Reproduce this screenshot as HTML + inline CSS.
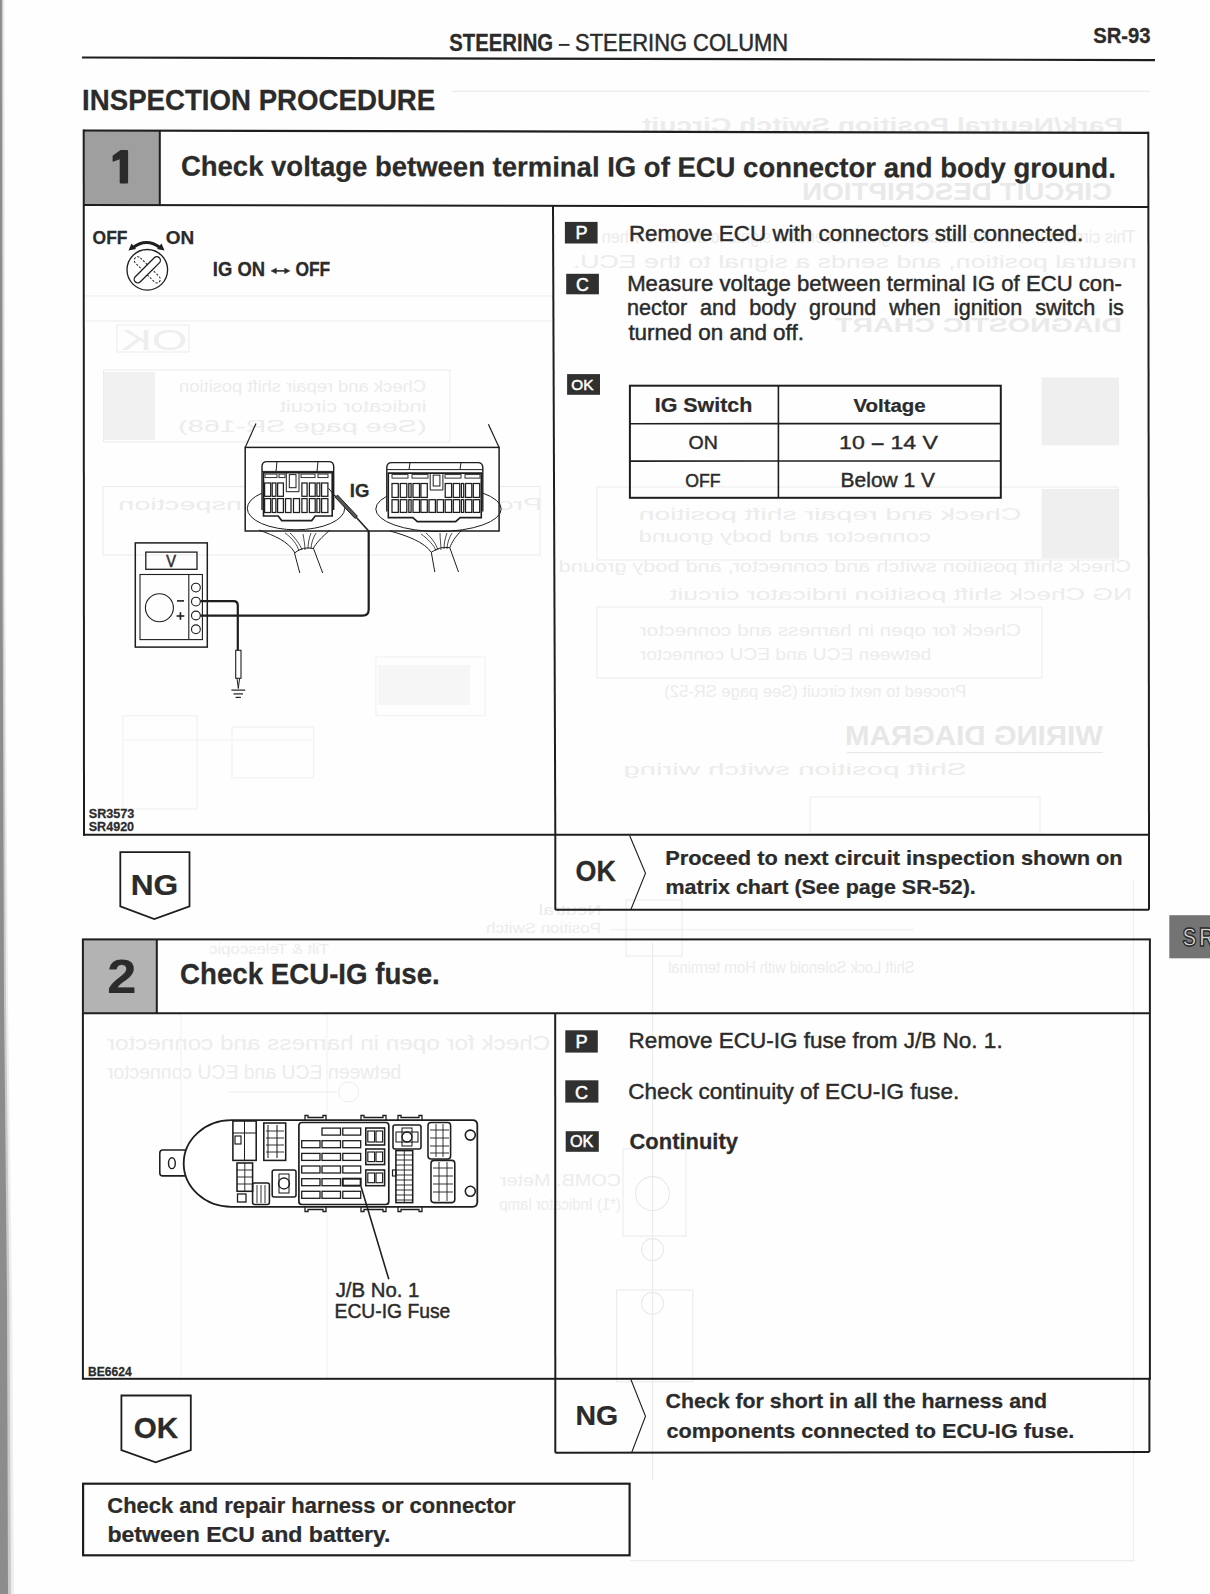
<!DOCTYPE html>
<html><head><meta charset="utf-8"><title>SR-93</title>
<style>html,body{margin:0;padding:0;background:#fefefe;}body{width:1210px;height:1594px;overflow:hidden;font-family:"Liberation Sans",sans-serif;}svg{display:block}</style>
</head><body>
<svg width="1210" height="1594" viewBox="0 0 1210 1594" font-family="Liberation Sans, sans-serif">
<rect width="1210" height="1594" fill="#fefefe"/>
<text transform="translate(1122.97,131.50) scale(-1,1) scale(1.3433,1)" font-size="21.00" font-weight="bold" fill="#ececec">Park/Neutral Position Switch Circuit</text>
<text transform="translate(1112.11,200.00) scale(-1,1) scale(1.2069,1)" font-size="23.00" font-weight="bold" fill="#e9e9e9">CIRCUIT DESCRIPTION</text>
<text transform="translate(1135.32,243.00) scale(-1,1) scale(0.8528,1)" font-size="19.00" fill="#ececec">This circuit turns on the indicator light and sends a signal to the ECU when the</text>
<text transform="translate(1136.87,268.00) scale(-1,1) scale(1.4062,1)" font-size="19.00" fill="#ececec">neutral position, and sends a signal to the ECU.</text>
<text transform="translate(1122.00,332.00) scale(-1,1) scale(1.3599,1)" font-size="21.00" font-weight="bold" fill="#eaeaea">DIAGNOSTIC CHART</text>
<text transform="translate(1021.42,520.00) scale(-1,1) scale(1.6756,1)" font-size="17.00" fill="#ececec">Check and repair shift position</text>
<text transform="translate(930.96,542.00) scale(-1,1) scale(1.4133,1)" font-size="17.00" fill="#ececec">connector and body ground</text>
<text transform="translate(1021.04,636.00) scale(-1,1) scale(1.2268,1)" font-size="17.00" fill="#ececec">Check for open in harness and connector</text>
<text transform="translate(931.15,660.00) scale(-1,1) scale(1.1297,1)" font-size="17.00" fill="#ececec">between ECU and ECU connector</text>
<text transform="translate(1103.00,744.60) scale(-1,1) scale(1.0886,1)" font-size="27.00" font-weight="bold" fill="#e7e7e7">WIRING DIAGRAM</text>
<text transform="translate(425.92,392.00) scale(-1,1) scale(1.0803,1)" font-size="17.00" fill="#ececec">Check and repair shift position</text>
<text transform="translate(426.54,412.00) scale(-1,1) scale(1.2943,1)" font-size="17.00" fill="#ececec">indicator circuit</text>
<text transform="translate(426.73,432.00) scale(-1,1) scale(1.6975,1)" font-size="17.00" fill="#ececec">(See page SR-168)</text>
<text transform="translate(542.31,510.00) scale(-1,1) scale(1.7003,1)" font-size="17.00" fill="#ececec">Proceed to next circuit inspection</text>
<text transform="translate(187.28,350.00) scale(-1,1) scale(1.5217,1)" font-size="30.00" fill="#eeeeee">OK</text>
<text transform="translate(550.21,1050.00) scale(-1,1) scale(1.1552,1)" font-size="21.00" fill="#ececec">Check for open in harness and connector</text>
<text transform="translate(401.16,1079.00) scale(-1,1) scale(0.9240,1)" font-size="21.00" fill="#ececec">between ECU and ECU connector</text>
<text transform="translate(601.06,933.00) scale(-1,1) scale(1.2123,1)" font-size="14.00" fill="#ececec">Position Switch</text>
<text transform="translate(601.56,915.00) scale(-1,1) scale(1.3915,1)" font-size="14.00" fill="#ececec">Neutral</text>
<text transform="translate(328.93,954.00) scale(-1,1) scale(1.1938,1)" font-size="14.00" fill="#ececec">Tilt & Telescopic</text>
<text transform="translate(914.43,972.70) scale(-1,1) scale(0.9114,1)" font-size="16.00" fill="#ececec">Shift Lock Solenoid with Horn terminal</text>
<text transform="translate(620.99,1186.00) scale(-1,1) scale(1.1667,1)" font-size="17.00" fill="#ececec">COMB. Meter</text>
<text transform="translate(620.89,1210.00) scale(-1,1) scale(0.8747,1)" font-size="17.00" fill="#ececec">(*1) Indicator lamp</text>
<text transform="translate(1131.09,572.00) scale(-1,1) scale(1.2783,1)" font-size="17.00" fill="#ececec">Check shift position switch and connector, and body ground</text>
<text transform="translate(1132.13,600.00) scale(-1,1) scale(1.5632,1)" font-size="17.00" fill="#ececec">NG   Check shift position indicator circuit</text>
<text transform="translate(966.33,697.00) scale(-1,1) scale(0.9755,1)" font-size="17.00" fill="#ececec">Proceed to next circuit (See page SR-52)</text>
<text transform="translate(966.47,775.00) scale(-1,1) scale(1.7301,1)" font-size="17.00" fill="#ececec">Shift position switch   wiring</text>
<path d="M0,0 L4.5,0 L5.5,600 L8,1000 L12,1300 L14,1594 L0,1594 Z" fill="#ededed" stroke="#1e1e1e" stroke-width="0"/><path d="M0,0 L3,0 L4,600 L6,1000 L9.5,1300 L11,1594 L0,1594 Z" fill="#c9c9c9" stroke="#1e1e1e" stroke-width="0"/><path d="M0,0 L1.8,0 L2.6,600 L4,1000 L7,1300 L8,1594 L0,1594 Z" fill="#8c8c8c" stroke="#1e1e1e" stroke-width="0"/><line x1="558.80" y1="44.90" x2="569.50" y2="44.90" stroke="#2b2b2b" stroke-width="1.9"/><path d="M82,56.4 L1155,59.0 L1155,61.2 L82,58.6 Z" fill="#1e1e1e" stroke="#1e1e1e" stroke-width="0"/><rect x="1041.60" y="377.50" width="77.40" height="67.70" fill="#efefef"/><rect x="1041.60" y="489.00" width="77.40" height="69.60" fill="#efefef"/><rect x="597.00" y="487.00" width="521.00" height="73.00" fill="none" stroke="#ebebeb" stroke-width="1.0"/><rect x="597.00" y="607.00" width="445.00" height="71.00" fill="none" stroke="#ebebeb" stroke-width="1.0"/><line x1="847.00" y1="752.60" x2="1103.00" y2="752.60" stroke="#e6e6e6" stroke-width="1.0"/><rect x="810.00" y="797.00" width="230.00" height="37.00" fill="none" stroke="#ececec" stroke-width="1.0"/><rect x="103.50" y="370.00" width="346.50" height="72.00" fill="none" stroke="#ebebeb" stroke-width="1.0"/><rect x="104.00" y="372.00" width="51.00" height="68.00" fill="#f1f1f1"/><rect x="103.00" y="486.60" width="437.00" height="68.40" fill="none" stroke="#ebebeb" stroke-width="1.0"/><rect x="117.00" y="325.00" width="72.00" height="27.00" fill="none" stroke="#ececec" stroke-width="1.0"/><line x1="84.00" y1="321.00" x2="553.00" y2="321.00" stroke="#ececec" stroke-width="1.0"/><line x1="84.00" y1="296.00" x2="553.00" y2="296.00" stroke="#ededed" stroke-width="1.0"/><line x1="652.50" y1="943.00" x2="652.50" y2="1480.00" stroke="#ebebeb" stroke-width="1.2"/><rect x="623.00" y="1149.00" width="63.00" height="87.00" fill="none" stroke="#ebebeb" stroke-width="1.1"/><circle cx="652.50" cy="1193.60" r="17.00" fill="none" stroke="#e9e9e9" stroke-width="1.1"/><circle cx="652.50" cy="1249.60" r="11.00" fill="none" stroke="#e9e9e9" stroke-width="1.1"/><rect x="616.60" y="1290.00" width="76.20" height="91.80" fill="none" stroke="#ebebeb" stroke-width="1.1"/><circle cx="652.50" cy="1303.40" r="11.00" fill="none" stroke="#e9e9e9" stroke-width="1.1"/><rect x="626.00" y="900.00" width="56.00" height="56.00" fill="none" stroke="#ececec" stroke-width="1.1"/><line x1="610.00" y1="929.70" x2="914.00" y2="929.70" stroke="#eeeeee" stroke-width="1.0"/><line x1="181.00" y1="1013.00" x2="181.00" y2="1378.00" stroke="#f1f1f1" stroke-width="1.0"/><line x1="327.00" y1="1013.00" x2="327.00" y2="1378.00" stroke="#f1f1f1" stroke-width="1.0"/><line x1="228.00" y1="1092.00" x2="337.00" y2="1092.00" stroke="#ececec" stroke-width="1.0"/><circle cx="348.70" cy="1092.00" r="10.00" fill="none" stroke="#ececec" stroke-width="1.0"/><line x1="452.00" y1="91.40" x2="1150.00" y2="91.40" stroke="#ececec" stroke-width="1.2"/><line x1="630.00" y1="1560.60" x2="1135.00" y2="1560.60" stroke="#ececec" stroke-width="1.2"/><line x1="1133.50" y1="880.00" x2="1133.50" y2="1560.00" stroke="#efefef" stroke-width="1.2"/><rect x="123.00" y="715.70" width="74.00" height="93.30" fill="none" stroke="#efefef" stroke-width="1.0"/><rect x="232.00" y="727.00" width="81.70" height="51.00" fill="none" stroke="#efefef" stroke-width="1.0"/><rect x="376.00" y="657.00" width="109.00" height="58.70" fill="none" stroke="#efefef" stroke-width="1.0"/><rect x="378.00" y="665.00" width="92.00" height="40.00" fill="#f6f6f6"/><line x1="123.00" y1="740.00" x2="313.00" y2="740.00" stroke="#f0f0f0" stroke-width="1.0"/><path d="M83.5,130.5 L159.8,130.7 L159.8,205.0 L83.5,204.9 Z" fill="#9f9f9f" stroke="#1e1e1e" stroke-width="0"/><path d="M120.6,150.0 L126.9,150.0 Q128.1,150 128.1,151.2 L128.1,182.5 Q128.1,183.6 126.9,183.6 L120.9,183.6 Q119.7,183.6 119.7,182.5 L119.7,159.2 L113.6,161.6 Q112.6,162 112.6,161 L112.6,156.3 Q112.6,155.3 113.6,154.9 Z" fill="#2b2b2b" stroke="#1e1e1e" stroke-width="0"/><path d="M83.5,130.5 L1148.3,132.9" fill="none" stroke="#1e1e1e" stroke-width="2.2"/><path d="M83.5,204.9 L1148.3,206.9" fill="none" stroke="#1e1e1e" stroke-width="2.0"/><line x1="159.80" y1="130.60" x2="159.80" y2="205.00" stroke="#1e1e1e" stroke-width="2.0"/><line x1="83.70" y1="129.50" x2="84.00" y2="835.80" stroke="#1e1e1e" stroke-width="2.0"/><line x1="1148.30" y1="131.80" x2="1149.00" y2="835.80" stroke="#1e1e1e" stroke-width="2.0"/><line x1="83.00" y1="834.80" x2="1150.00" y2="834.80" stroke="#1e1e1e" stroke-width="2.0"/><line x1="553.00" y1="206.00" x2="555.30" y2="835.00" stroke="#1e1e1e" stroke-width="2.0"/><rect x="564.90" y="221.90" width="32.70" height="21.60" fill="#303030"/><rect x="566.20" y="273.80" width="32.70" height="20.50" fill="#303030"/><rect x="567.10" y="374.10" width="32.90" height="20.70" fill="#303030"/><rect x="629.90" y="385.70" width="370.90" height="112.10" fill="none" stroke="#1e1e1e" stroke-width="2.0"/><line x1="629.90" y1="423.70" x2="1000.80" y2="423.60" stroke="#1e1e1e" stroke-width="1.6"/><line x1="629.90" y1="461.10" x2="1000.80" y2="461.00" stroke="#1e1e1e" stroke-width="1.6"/><line x1="778.40" y1="385.70" x2="778.40" y2="497.80" stroke="#1e1e1e" stroke-width="1.6"/><line x1="555.30" y1="834.80" x2="555.30" y2="909.70" stroke="#1e1e1e" stroke-width="2.0"/><line x1="555.30" y1="909.70" x2="1149.00" y2="909.70" stroke="#1e1e1e" stroke-width="2.0"/><line x1="1149.00" y1="834.80" x2="1149.00" y2="909.70" stroke="#1e1e1e" stroke-width="2.0"/><path d="M629.6,835.5 L645.5,873.3 L631,909.2" fill="none" stroke="#1e1e1e" stroke-width="1.1"/><path d="M120.3,852.1 L189.5,852.1 L189.5,906.3 L154.3,919.1 L120.3,906.3 Z" fill="none" stroke="#1e1e1e" stroke-width="1.8"/><rect x="82.90" y="939.40" width="73.90" height="73.90" fill="#b3b3b3"/><rect x="82.90" y="939.40" width="1067.00" height="439.40" fill="none" stroke="#1e1e1e" stroke-width="2.0"/><line x1="82.90" y1="1013.30" x2="1149.90" y2="1013.30" stroke="#1e1e1e" stroke-width="2.0"/><line x1="156.80" y1="939.40" x2="156.80" y2="1013.30" stroke="#1e1e1e" stroke-width="2.0"/><line x1="555.20" y1="1013.30" x2="555.30" y2="1378.80" stroke="#1e1e1e" stroke-width="2.0"/><rect x="565.30" y="1030.30" width="32.50" height="22.30" fill="#303030"/><rect x="565.30" y="1080.30" width="33.10" height="22.30" fill="#303030"/><rect x="565.70" y="1131.20" width="33.10" height="20.60" fill="#303030"/><line x1="555.30" y1="1378.80" x2="555.30" y2="1452.80" stroke="#1e1e1e" stroke-width="2.0"/><line x1="555.30" y1="1452.80" x2="1149.40" y2="1452.00" stroke="#1e1e1e" stroke-width="2.0"/><line x1="1149.40" y1="1378.80" x2="1149.40" y2="1452.00" stroke="#1e1e1e" stroke-width="2.0"/><path d="M630.7,1379 L645.5,1416.3 L631.6,1452.8" fill="none" stroke="#1e1e1e" stroke-width="1.1"/><path d="M121.4,1395.5 L190.8,1395.5 L190.8,1450.1 L155.6,1462.3 L121.4,1450.1 Z" fill="none" stroke="#1e1e1e" stroke-width="1.8"/><rect x="83.10" y="1483.70" width="546.50" height="71.60" fill="none" stroke="#1e1e1e" stroke-width="2.2"/><rect x="1169.30" y="915.20" width="40.70" height="43.10" fill="#747474"/>
<circle cx="147.30" cy="269.80" r="20.30" fill="none" stroke="#1e1e1e" stroke-width="1.3"/><rect x="130.3" y="266.2" width="34" height="7.2" rx="3.6" fill="none" stroke="#1e1e1e" stroke-width="1" stroke-dasharray="2.2,1.6" transform="rotate(45 147.3 269.8)"/><rect x="130.3" y="266.2" width="34" height="7.2" rx="3.6" fill="#fff" stroke="#1e1e1e" stroke-width="1.3" transform="rotate(-45 147.3 269.8)"/><line x1="274.00" y1="270.90" x2="287.00" y2="270.90" stroke="#2b2b2b" stroke-width="1.6"/><path d="M271.1,270.9 L276.3,268.2 L276.3,273.6 Z" fill="#2b2b2b" stroke="#2b2b2b" stroke-width="0.6"/><path d="M289.9,270.9 L284.7,268.2 L284.7,273.6 Z" fill="#2b2b2b" stroke="#2b2b2b" stroke-width="0.6"/><path d="M133,247.5 Q146.5,237.5 160,247.5" fill="none" stroke="#1e1e1e" stroke-width="3.0"/><path d="M128.5,250.5 L131.5,243.5 L136,249 Z" fill="#1e1e1e" stroke="#1e1e1e" stroke-width="0"/><path d="M164.5,250.5 L161.5,243.5 L157,249 Z" fill="#1e1e1e" stroke="#1e1e1e" stroke-width="0"/>
<rect x="245.20" y="447.40" width="253.90" height="83.60" fill="#fff" stroke="#1e1e1e" stroke-width="1.5"/><line x1="245.20" y1="447.40" x2="256.00" y2="423.40" stroke="#1e1e1e" stroke-width="1.2"/><line x1="499.10" y1="447.60" x2="488.40" y2="424.20" stroke="#1e1e1e" stroke-width="1.2"/><ellipse cx="296.00" cy="508.40" rx="48.70" ry="21.40" fill="none" stroke="#1e1e1e" stroke-width="1.0"/><ellipse cx="438.50" cy="509.00" rx="62.70" ry="22.50" fill="none" stroke="#1e1e1e" stroke-width="1.0"/><path d="M259,530 C275,536 288,541 295,553" fill="none" stroke="#1e1e1e" stroke-width="1.0"/><path d="M330,530 C322,537 316,543 313,549" fill="none" stroke="#1e1e1e" stroke-width="1.0"/><path d="M285,533 C292,538 297,544 299,551 M290,533 C295,538 300,544 302,550 M303,534 C304,540 305,545 305,550 M311,533 C309,538 308,544 308,549 M316,533 C313,538 311,544 311,549" fill="none" stroke="#1e1e1e" stroke-width="0.8"/><path d="M294.5,553 Q303,546 313.5,548.5" fill="none" stroke="#1e1e1e" stroke-width="1.0"/><path d="M294.5,553 L299.8,573 M313.5,548.5 L322.7,573" fill="none" stroke="#1e1e1e" stroke-width="1.0"/><path d="M390,531 C408,536 424,542 431.3,552.3" fill="none" stroke="#1e1e1e" stroke-width="1.0"/><path d="M462,530 C455,537 452,542 449.8,547.7" fill="none" stroke="#1e1e1e" stroke-width="1.0"/><path d="M421,534 C428,539 434,545 436,551 M426,533 C432,538 436,544 438,550 M440,533 C440,539 441,545 441,550 M447,533 C445,538 444,544 444,549 M452,533 C449,538 447,544 447,549" fill="none" stroke="#1e1e1e" stroke-width="0.8"/><path d="M431.3,552.3 Q440,546 449.8,547.7" fill="none" stroke="#1e1e1e" stroke-width="1.0"/><path d="M431.3,552.3 L434.8,572 M449.8,547.7 L458.5,572" fill="none" stroke="#1e1e1e" stroke-width="1.0"/><path d="M262.0,510.0 L262.0,466.6 Q262.0,461.6 267.0,461.6 L328.7,461.6 Q333.7,461.6 333.7,466.6 L333.7,510.0" fill="#fff" stroke="#1e1e1e" stroke-width="1.4"/><line x1="262.00" y1="471.40" x2="333.70" y2="471.40" stroke="#1e1e1e" stroke-width="1.0"/><line x1="277.00" y1="461.60" x2="276.00" y2="471.40" stroke="#1e1e1e" stroke-width="1.0"/><line x1="318.00" y1="461.60" x2="317.00" y2="471.40" stroke="#1e1e1e" stroke-width="1.0"/><path d="M263.5,472.6 L332.2,472.6 L332.2,516.0 L315.2,516.0 L311.7,520.6 L281.7,520.6 L278.2,516.0 L263.5,516.0 Z" fill="#fff" stroke="#1e1e1e" stroke-width="1.6"/><rect x="265.00" y="474.10" width="12.00" height="3.50" fill="none" stroke="#1e1e1e" stroke-width="0.9"/><rect x="279.00" y="474.10" width="6.00" height="3.50" fill="none" stroke="#1e1e1e" stroke-width="0.9"/><rect x="301.00" y="474.10" width="14.00" height="3.50" fill="none" stroke="#1e1e1e" stroke-width="0.9"/><rect x="318.00" y="474.10" width="10.00" height="3.50" fill="none" stroke="#1e1e1e" stroke-width="0.9"/><rect x="264.60" y="483.00" width="6.10" height="13.30" fill="none" stroke="#1e1e1e" stroke-width="1.25"/><rect x="272.20" y="483.00" width="3.70" height="13.30" fill="none" stroke="#1e1e1e" stroke-width="1.25"/><rect x="277.60" y="483.00" width="5.80" height="13.30" fill="none" stroke="#1e1e1e" stroke-width="1.25"/><rect x="301.90" y="483.00" width="5.20" height="13.30" fill="none" stroke="#1e1e1e" stroke-width="1.25"/><rect x="309.40" y="483.00" width="5.80" height="13.30" fill="none" stroke="#1e1e1e" stroke-width="1.25"/><rect x="316.90" y="483.00" width="2.90" height="13.30" fill="none" stroke="#1e1e1e" stroke-width="1.25"/><rect x="321.60" y="483.00" width="6.30" height="13.30" fill="none" stroke="#1e1e1e" stroke-width="1.25"/><rect x="264.60" y="498.60" width="6.10" height="13.90" fill="none" stroke="#1e1e1e" stroke-width="1.25"/><rect x="272.20" y="498.60" width="3.70" height="13.90" fill="none" stroke="#1e1e1e" stroke-width="1.25"/><rect x="277.60" y="498.60" width="5.80" height="13.90" fill="none" stroke="#1e1e1e" stroke-width="1.25"/><rect x="285.50" y="498.60" width="5.50" height="13.90" fill="none" stroke="#1e1e1e" stroke-width="1.25"/><rect x="293.50" y="498.60" width="6.00" height="13.90" fill="none" stroke="#1e1e1e" stroke-width="1.25"/><rect x="301.90" y="498.60" width="5.20" height="13.90" fill="none" stroke="#1e1e1e" stroke-width="1.25"/><rect x="309.40" y="498.60" width="5.80" height="13.90" fill="none" stroke="#1e1e1e" stroke-width="1.25"/><rect x="316.90" y="498.60" width="2.90" height="13.90" fill="none" stroke="#1e1e1e" stroke-width="1.25"/><rect x="321.60" y="498.60" width="6.30" height="13.90" fill="none" stroke="#1e1e1e" stroke-width="1.25"/><path d="M286.3,472.6 L286.3,491.7 L299.0,491.7 L299.0,472.6" fill="none" stroke="#1e1e1e" stroke-width="1.0"/><rect x="289.30" y="474.60" width="6.70" height="13.10" fill="none" stroke="#1e1e1e" stroke-width="1.0"/><path d="M386.8,511.6 L386.8,467.6 Q386.8,462.6 391.8,462.6 L477.8,462.6 Q482.8,462.6 482.8,467.6 L482.8,511.6" fill="#fff" stroke="#1e1e1e" stroke-width="1.4"/><line x1="386.80" y1="469.60" x2="482.80" y2="469.60" stroke="#1e1e1e" stroke-width="1.0"/><line x1="410.00" y1="462.60" x2="409.00" y2="469.60" stroke="#1e1e1e" stroke-width="1.0"/><line x1="461.00" y1="462.60" x2="460.00" y2="469.60" stroke="#1e1e1e" stroke-width="1.0"/><path d="M388.3,473.1 L481.3,473.1 L481.3,517.6 L460.2,517.6 L455.6,521.6 L417.4,521.6 L412.8,517.6 L388.3,517.6 Z" fill="#fff" stroke="#1e1e1e" stroke-width="1.6"/><rect x="392.00" y="474.60" width="16.00" height="3.50" fill="none" stroke="#1e1e1e" stroke-width="0.9"/><rect x="412.00" y="474.60" width="16.00" height="3.50" fill="none" stroke="#1e1e1e" stroke-width="0.9"/><rect x="445.00" y="474.60" width="16.00" height="3.50" fill="none" stroke="#1e1e1e" stroke-width="0.9"/><rect x="465.00" y="474.60" width="15.00" height="3.50" fill="none" stroke="#1e1e1e" stroke-width="0.9"/><rect x="392.00" y="483.50" width="6.30" height="13.90" fill="none" stroke="#1e1e1e" stroke-width="1.25"/><rect x="400.30" y="483.50" width="6.50" height="13.90" fill="none" stroke="#1e1e1e" stroke-width="1.25"/><rect x="408.80" y="483.50" width="2.30" height="13.90" fill="none" stroke="#1e1e1e" stroke-width="1.25"/><rect x="413.00" y="483.50" width="6.50" height="13.90" fill="none" stroke="#1e1e1e" stroke-width="1.25"/><rect x="420.90" y="483.50" width="6.40" height="13.90" fill="none" stroke="#1e1e1e" stroke-width="1.25"/><rect x="445.20" y="483.50" width="6.40" height="13.90" fill="none" stroke="#1e1e1e" stroke-width="1.25"/><rect x="453.30" y="483.50" width="6.40" height="13.90" fill="none" stroke="#1e1e1e" stroke-width="1.25"/><rect x="461.40" y="483.50" width="2.30" height="13.90" fill="none" stroke="#1e1e1e" stroke-width="1.25"/><rect x="465.50" y="483.50" width="6.30" height="13.90" fill="none" stroke="#1e1e1e" stroke-width="1.25"/><rect x="473.30" y="483.50" width="6.40" height="13.90" fill="none" stroke="#1e1e1e" stroke-width="1.25"/><rect x="392.00" y="499.70" width="6.30" height="12.70" fill="none" stroke="#1e1e1e" stroke-width="1.25"/><rect x="400.30" y="499.70" width="6.50" height="12.70" fill="none" stroke="#1e1e1e" stroke-width="1.25"/><rect x="408.80" y="499.70" width="2.30" height="12.70" fill="none" stroke="#1e1e1e" stroke-width="1.25"/><rect x="413.00" y="499.70" width="6.50" height="12.70" fill="none" stroke="#1e1e1e" stroke-width="1.25"/><rect x="420.90" y="499.70" width="6.40" height="12.70" fill="none" stroke="#1e1e1e" stroke-width="1.25"/><rect x="429.00" y="499.70" width="6.40" height="12.70" fill="none" stroke="#1e1e1e" stroke-width="1.25"/><rect x="437.10" y="499.70" width="6.40" height="12.70" fill="none" stroke="#1e1e1e" stroke-width="1.25"/><rect x="445.20" y="499.70" width="6.40" height="12.70" fill="none" stroke="#1e1e1e" stroke-width="1.25"/><rect x="453.30" y="499.70" width="6.40" height="12.70" fill="none" stroke="#1e1e1e" stroke-width="1.25"/><rect x="461.40" y="499.70" width="2.30" height="12.70" fill="none" stroke="#1e1e1e" stroke-width="1.25"/><rect x="465.50" y="499.70" width="6.30" height="12.70" fill="none" stroke="#1e1e1e" stroke-width="1.25"/><rect x="473.30" y="499.70" width="6.40" height="12.70" fill="none" stroke="#1e1e1e" stroke-width="1.25"/><path d="M430.2,473.1 L430.2,490.0 L442.9,490.0 L442.9,473.1" fill="none" stroke="#1e1e1e" stroke-width="1.0"/><rect x="433.20" y="475.10" width="6.70" height="10.90" fill="none" stroke="#1e1e1e" stroke-width="1.0"/>
<rect x="135.30" y="542.90" width="72.00" height="104.20" fill="none" stroke="#1e1e1e" stroke-width="1.5"/><rect x="145.80" y="552.10" width="51.20" height="17.20" fill="none" stroke="#1e1e1e" stroke-width="1.3"/><rect x="140.00" y="574.50" width="62.40" height="65.10" fill="none" stroke="#1e1e1e" stroke-width="1.1"/><line x1="188.80" y1="574.50" x2="188.80" y2="639.60" stroke="#1e1e1e" stroke-width="1.1"/><circle cx="159.40" cy="607.80" r="14.00" fill="none" stroke="#1e1e1e" stroke-width="1.1"/><circle cx="195.90" cy="587.60" r="4.40" fill="#fff" stroke="#1e1e1e" stroke-width="1.1"/><circle cx="195.90" cy="601.60" r="4.40" fill="#fff" stroke="#1e1e1e" stroke-width="1.1"/><circle cx="195.90" cy="615.50" r="4.40" fill="#fff" stroke="#1e1e1e" stroke-width="1.1"/><circle cx="195.90" cy="629.30" r="4.40" fill="#fff" stroke="#1e1e1e" stroke-width="1.1"/><line x1="177.00" y1="600.90" x2="184.00" y2="600.90" stroke="#1e1e1e" stroke-width="1.6"/><line x1="176.60" y1="616.00" x2="184.30" y2="616.00" stroke="#1e1e1e" stroke-width="1.6"/><line x1="180.45" y1="612.20" x2="180.45" y2="619.80" stroke="#1e1e1e" stroke-width="1.6"/><path d="M200.3,601.2 L233.5,601.2 Q237.8,601.2 237.8,605.5 L237.8,650.5" fill="none" stroke="#1e1e1e" stroke-width="2.2"/><path d="M200.3,615.6 L362.5,615.6 Q368.7,615.6 368.7,609.4 L368.7,531" fill="none" stroke="#1e1e1e" stroke-width="2.2"/><rect x="235.70" y="650.30" width="5.30" height="28.00" fill="#fff" stroke="#1e1e1e" stroke-width="1.1"/><path d="M237,678.3 L238.3,688.5 L239.6,678.3" fill="none" stroke="#1e1e1e" stroke-width="1.0"/><line x1="231.40" y1="690.10" x2="245.30" y2="690.10" stroke="#1e1e1e" stroke-width="1.2"/><line x1="233.50" y1="693.90" x2="243.00" y2="693.90" stroke="#1e1e1e" stroke-width="1.2"/><line x1="235.60" y1="697.40" x2="240.90" y2="697.40" stroke="#1e1e1e" stroke-width="1.2"/><line x1="328.50" y1="488.20" x2="337.00" y2="498.50" stroke="#1e1e1e" stroke-width="1.0"/><path d="M335.2,497.3 L355.0,518.4 L357.4,516.2 L337.6,495.1 Z" fill="#555" stroke="#1e1e1e" stroke-width="1.0"/><path d="M356.2,517.3 L368.7,531" fill="none" stroke="#1e1e1e" stroke-width="1.6"/>
<rect x="159.80" y="1150.00" width="30.20" height="25.90" rx="3" fill="#fff" stroke="#1e1e1e" stroke-width="1.56"/><ellipse cx="171.90" cy="1163.20" rx="3.40" ry="5.40" fill="none" stroke="#1e1e1e" stroke-width="1.43"/><path d="M231.5,1120.2 L472.5,1120.2 Q477.3,1120.2 477.3,1125 L477.3,1202 Q477.3,1206.8 472.5,1206.8 L231.5,1206.8 A47.8,43.3 0 0 1 231.5,1120.2 Z" fill="#fff" stroke="#1e1e1e" stroke-width="1.82"/><path d="M305,1120.2 L305,1115.5 L308,1115.5 L308,1117.5 L323,1117.5 L323,1115.5 L326,1115.5 L326,1120.2" fill="none" stroke="#1e1e1e" stroke-width="1.3"/><path d="M305,1206.8 L305,1211.5 L308,1211.5 L308,1209.5 L323,1209.5 L323,1211.5 L326,1211.5 L326,1206.8" fill="none" stroke="#1e1e1e" stroke-width="1.3"/><path d="M361,1120.2 L361,1115.5 L364,1115.5 L364,1117.5 L383,1117.5 L383,1115.5 L386,1115.5 L386,1120.2" fill="none" stroke="#1e1e1e" stroke-width="1.3"/><path d="M361,1206.8 L361,1211.5 L364,1211.5 L364,1209.5 L383,1209.5 L383,1211.5 L386,1211.5 L386,1206.8" fill="none" stroke="#1e1e1e" stroke-width="1.3"/><path d="M398,1120.2 L398,1115.5 L401,1115.5 L401,1117.5 L419,1117.5 L419,1115.5 L422,1115.5 L422,1120.2" fill="none" stroke="#1e1e1e" stroke-width="1.3"/><path d="M398,1206.8 L398,1211.5 L401,1211.5 L401,1209.5 L419,1209.5 L419,1211.5 L422,1211.5 L422,1206.8" fill="none" stroke="#1e1e1e" stroke-width="1.3"/><circle cx="470.30" cy="1135.10" r="5.00" fill="none" stroke="#1e1e1e" stroke-width="1.56"/><circle cx="470.30" cy="1191.30" r="5.00" fill="none" stroke="#1e1e1e" stroke-width="1.56"/><rect x="298.90" y="1122.50" width="89.90" height="82.00" rx="3" fill="none" stroke="#1e1e1e" stroke-width="1.69"/><rect x="322.00" y="1128.10" width="18.50" height="7.00" fill="none" stroke="#1e1e1e" stroke-width="1.3"/><rect x="342.80" y="1128.10" width="17.90" height="7.00" fill="none" stroke="#1e1e1e" stroke-width="1.3"/><rect x="301.70" y="1140.70" width="18.30" height="7.00" fill="none" stroke="#1e1e1e" stroke-width="1.3"/><rect x="322.00" y="1140.70" width="18.50" height="7.00" fill="none" stroke="#1e1e1e" stroke-width="1.3"/><rect x="342.80" y="1140.70" width="17.90" height="7.00" fill="none" stroke="#1e1e1e" stroke-width="1.3"/><rect x="301.70" y="1153.40" width="18.30" height="7.00" fill="none" stroke="#1e1e1e" stroke-width="1.3"/><rect x="322.00" y="1153.40" width="18.50" height="7.00" fill="none" stroke="#1e1e1e" stroke-width="1.3"/><rect x="342.80" y="1153.40" width="17.90" height="7.00" fill="none" stroke="#1e1e1e" stroke-width="1.3"/><rect x="301.70" y="1166.00" width="18.30" height="7.00" fill="none" stroke="#1e1e1e" stroke-width="1.3"/><rect x="322.00" y="1166.00" width="18.50" height="7.00" fill="none" stroke="#1e1e1e" stroke-width="1.3"/><rect x="342.80" y="1166.00" width="17.90" height="7.00" fill="none" stroke="#1e1e1e" stroke-width="1.3"/><rect x="301.70" y="1178.70" width="18.30" height="7.00" fill="none" stroke="#1e1e1e" stroke-width="1.3"/><rect x="322.00" y="1178.70" width="18.50" height="7.00" fill="none" stroke="#1e1e1e" stroke-width="1.3"/><rect x="342.80" y="1178.70" width="17.90" height="7.00" fill="none" stroke="#1e1e1e" stroke-width="2.0"/><rect x="301.70" y="1191.30" width="18.30" height="7.00" fill="none" stroke="#1e1e1e" stroke-width="1.3"/><rect x="322.00" y="1191.30" width="18.50" height="7.00" fill="none" stroke="#1e1e1e" stroke-width="1.3"/><rect x="342.80" y="1191.30" width="17.90" height="7.00" fill="none" stroke="#1e1e1e" stroke-width="1.3"/><rect x="365.80" y="1128.00" width="18.80" height="17.00" fill="none" stroke="#1e1e1e" stroke-width="1.56"/><rect x="367.80" y="1131.00" width="6.80" height="11.00" fill="none" stroke="#1e1e1e" stroke-width="1.17"/><rect x="376.00" y="1131.00" width="6.60" height="11.00" fill="none" stroke="#1e1e1e" stroke-width="1.17"/><rect x="365.80" y="1149.00" width="18.80" height="15.60" fill="none" stroke="#1e1e1e" stroke-width="1.56"/><rect x="367.80" y="1152.00" width="6.80" height="9.60" fill="none" stroke="#1e1e1e" stroke-width="1.17"/><rect x="376.00" y="1152.00" width="6.60" height="9.60" fill="none" stroke="#1e1e1e" stroke-width="1.17"/><rect x="365.80" y="1170.00" width="18.80" height="15.70" fill="none" stroke="#1e1e1e" stroke-width="1.56"/><rect x="367.80" y="1173.00" width="6.80" height="9.70" fill="none" stroke="#1e1e1e" stroke-width="1.17"/><rect x="376.00" y="1173.00" width="6.60" height="9.70" fill="none" stroke="#1e1e1e" stroke-width="1.17"/><rect x="232.90" y="1121.00" width="23.30" height="39.40" fill="none" stroke="#1e1e1e" stroke-width="1.56"/><line x1="244.50" y1="1121.00" x2="244.50" y2="1160.40" stroke="#1e1e1e" stroke-width="1.04"/><line x1="232.90" y1="1133.00" x2="256.20" y2="1133.00" stroke="#1e1e1e" stroke-width="1.04"/><rect x="235.00" y="1136.00" width="6.00" height="8.00" fill="none" stroke="#1e1e1e" stroke-width="1.17"/><rect x="263.80" y="1123.00" width="21.90" height="37.40" fill="none" stroke="#1e1e1e" stroke-width="1.56"/><line x1="266.00" y1="1131.00" x2="284.00" y2="1131.00" stroke="#1e1e1e" stroke-width="0.91"/><line x1="266.00" y1="1138.00" x2="284.00" y2="1138.00" stroke="#1e1e1e" stroke-width="0.91"/><line x1="266.00" y1="1145.00" x2="284.00" y2="1145.00" stroke="#1e1e1e" stroke-width="0.91"/><line x1="266.00" y1="1152.00" x2="284.00" y2="1152.00" stroke="#1e1e1e" stroke-width="0.91"/><line x1="268.00" y1="1125.00" x2="268.00" y2="1158.00" stroke="#1e1e1e" stroke-width="1.04"/><line x1="277.00" y1="1125.00" x2="277.00" y2="1158.00" stroke="#1e1e1e" stroke-width="1.04"/><rect x="237.00" y="1163.00" width="15.60" height="28.30" fill="none" stroke="#1e1e1e" stroke-width="1.56"/><line x1="237.00" y1="1170.00" x2="252.60" y2="1170.00" stroke="#1e1e1e" stroke-width="0.91"/><line x1="237.00" y1="1177.00" x2="252.60" y2="1177.00" stroke="#1e1e1e" stroke-width="0.91"/><line x1="237.00" y1="1184.00" x2="252.60" y2="1184.00" stroke="#1e1e1e" stroke-width="0.91"/><line x1="244.80" y1="1163.00" x2="244.80" y2="1191.30" stroke="#1e1e1e" stroke-width="0.91"/><rect x="252.60" y="1183.00" width="16.80" height="21.50" rx="2" fill="none" stroke="#1e1e1e" stroke-width="1.56"/><line x1="257.00" y1="1185.00" x2="257.00" y2="1203.00" stroke="#1e1e1e" stroke-width="0.91"/><line x1="261.00" y1="1185.00" x2="261.00" y2="1203.00" stroke="#1e1e1e" stroke-width="0.91"/><line x1="265.00" y1="1185.00" x2="265.00" y2="1203.00" stroke="#1e1e1e" stroke-width="0.91"/><rect x="237.50" y="1194.00" width="8.50" height="8.00" fill="none" stroke="#1e1e1e" stroke-width="1.3"/><rect x="272.20" y="1170.00" width="23.80" height="27.00" rx="2" fill="none" stroke="#1e1e1e" stroke-width="1.56"/><circle cx="284.00" cy="1183.50" r="5.50" fill="none" stroke="#1e1e1e" stroke-width="1.3"/><rect x="279.00" y="1174.00" width="10.00" height="19.00" fill="none" stroke="#1e1e1e" stroke-width="1.04"/><rect x="393.00" y="1125.00" width="28.00" height="24.00" rx="2" fill="none" stroke="#1e1e1e" stroke-width="1.56"/><circle cx="407.00" cy="1137.00" r="5.00" fill="none" stroke="#1e1e1e" stroke-width="1.3"/><rect x="402.00" y="1128.00" width="10.00" height="18.00" fill="none" stroke="#1e1e1e" stroke-width="1.04"/><rect x="396.00" y="1132.00" width="22.00" height="10.00" fill="none" stroke="#1e1e1e" stroke-width="1.04"/><rect x="395.90" y="1150.60" width="16.80" height="52.00" fill="none" stroke="#1e1e1e" stroke-width="1.56"/><line x1="395.90" y1="1155.00" x2="412.70" y2="1155.00" stroke="#1e1e1e" stroke-width="0.91"/><line x1="395.90" y1="1160.00" x2="412.70" y2="1160.00" stroke="#1e1e1e" stroke-width="0.91"/><line x1="395.90" y1="1165.00" x2="412.70" y2="1165.00" stroke="#1e1e1e" stroke-width="0.91"/><line x1="395.90" y1="1170.00" x2="412.70" y2="1170.00" stroke="#1e1e1e" stroke-width="0.91"/><line x1="395.90" y1="1175.00" x2="412.70" y2="1175.00" stroke="#1e1e1e" stroke-width="0.91"/><line x1="395.90" y1="1180.00" x2="412.70" y2="1180.00" stroke="#1e1e1e" stroke-width="0.91"/><line x1="395.90" y1="1185.00" x2="412.70" y2="1185.00" stroke="#1e1e1e" stroke-width="0.91"/><line x1="395.90" y1="1190.00" x2="412.70" y2="1190.00" stroke="#1e1e1e" stroke-width="0.91"/><line x1="395.90" y1="1195.00" x2="412.70" y2="1195.00" stroke="#1e1e1e" stroke-width="0.91"/><line x1="395.90" y1="1200.00" x2="412.70" y2="1200.00" stroke="#1e1e1e" stroke-width="0.91"/><line x1="404.30" y1="1150.60" x2="404.30" y2="1202.60" stroke="#1e1e1e" stroke-width="0.91"/><rect x="392.50" y="1170.00" width="3.50" height="6.00" fill="none" stroke="#1e1e1e" stroke-width="1.17"/><rect x="428.00" y="1122.50" width="22.60" height="36.50" rx="3" fill="none" stroke="#1e1e1e" stroke-width="1.56"/><line x1="430.00" y1="1130.00" x2="449.00" y2="1130.00" stroke="#1e1e1e" stroke-width="0.91"/><line x1="430.00" y1="1138.00" x2="449.00" y2="1138.00" stroke="#1e1e1e" stroke-width="0.91"/><line x1="430.00" y1="1146.00" x2="449.00" y2="1146.00" stroke="#1e1e1e" stroke-width="0.91"/><line x1="430.00" y1="1153.00" x2="449.00" y2="1153.00" stroke="#1e1e1e" stroke-width="0.91"/><line x1="436.00" y1="1124.00" x2="436.00" y2="1157.00" stroke="#1e1e1e" stroke-width="0.91"/><line x1="443.00" y1="1124.00" x2="443.00" y2="1157.00" stroke="#1e1e1e" stroke-width="0.91"/><rect x="431.00" y="1160.40" width="23.80" height="42.20" rx="3" fill="none" stroke="#1e1e1e" stroke-width="1.56"/><line x1="433.00" y1="1168.00" x2="453.00" y2="1168.00" stroke="#1e1e1e" stroke-width="0.91"/><line x1="433.00" y1="1176.00" x2="453.00" y2="1176.00" stroke="#1e1e1e" stroke-width="0.91"/><line x1="433.00" y1="1184.00" x2="453.00" y2="1184.00" stroke="#1e1e1e" stroke-width="0.91"/><line x1="433.00" y1="1192.00" x2="453.00" y2="1192.00" stroke="#1e1e1e" stroke-width="0.91"/><line x1="439.00" y1="1162.00" x2="439.00" y2="1201.00" stroke="#1e1e1e" stroke-width="0.91"/><line x1="447.00" y1="1162.00" x2="447.00" y2="1201.00" stroke="#1e1e1e" stroke-width="0.91"/><line x1="361.00" y1="1186.50" x2="388.80" y2="1279.30" stroke="#1e1e1e" stroke-width="1.56"/>
<text transform="translate(449.29,50.80) scale(0.8762,1)" font-size="23.19" font-weight="bold" fill="#2b2b2b" stroke="#2b2b2b" stroke-width="0.29">STEERING</text>
<text transform="translate(575.10,50.80) scale(0.9448,1)" font-size="23.19" fill="#2b2b2b" stroke="#2b2b2b" stroke-width="0.48">STEERING COLUMN</text>
<text transform="translate(1093.19,42.70) scale(0.9134,1)" font-size="22.17" font-weight="bold" fill="#2b2b2b" stroke="#2b2b2b" stroke-width="0.27">SR-93</text>
<text transform="translate(82.06,110.40) scale(0.9539,1)" font-size="28.99" font-weight="bold" fill="#2b2b2b" stroke="#2b2b2b" stroke-width="0.26">INSPECTION PROCEDURE</text>
<text transform="translate(180.90,175.60) rotate(0.13) scale(0.9785,1)" font-size="28.12" font-weight="bold" fill="#2b2b2b" stroke="#2b2b2b" stroke-width="0.26">Check voltage between terminal IG of ECU connector and body ground.</text>
<text transform="translate(92.60,244.30) scale(0.9190,1)" font-size="18.99" font-weight="bold" fill="#2b2b2b" stroke="#2b2b2b" stroke-width="0.27">OFF</text>
<text transform="translate(165.64,244.30)" font-size="18.99" font-weight="bold" fill="#2b2b2b" stroke="#2b2b2b" stroke-width="0.25">ON</text>
<text transform="translate(212.81,276.30) scale(0.9222,1)" font-size="20.00" font-weight="bold" fill="#2b2b2b" stroke="#2b2b2b" stroke-width="0.27">IG ON</text>
<text transform="translate(295.40,276.30) scale(0.8724,1)" font-size="20.00" font-weight="bold" fill="#2b2b2b" stroke="#2b2b2b" stroke-width="0.29">OFF</text>
<text transform="translate(349.80,497.40) scale(1.0098,1)" font-size="18.41" font-weight="bold" fill="#2b2b2b" stroke="#2b2b2b" stroke-width="0.25">IG</text>
<text transform="translate(166.35,567.00) scale(0.9004,1)" font-size="16.23" fill="#2b2b2b" stroke="#2b2b2b" stroke-width="0.50">V</text>
<text transform="translate(88.72,818.20) scale(0.9784,1)" font-size="12.90" font-weight="bold" fill="#2b2b2b" stroke="#2b2b2b" stroke-width="0.26">SR3573</text>
<text transform="translate(88.72,830.70) scale(0.9970,1)" font-size="12.61" font-weight="bold" fill="#2b2b2b" stroke="#2b2b2b" stroke-width="0.25">SR4920</text>
<text transform="translate(575.45,239.00) scale(1.0244,1)" font-size="17.68" fill="#fff" stroke="#fff" stroke-width="0.49">P</text>
<text transform="translate(628.90,240.50) scale(1.0411,1)" font-size="21.59" fill="#2b2b2b" stroke="#2b2b2b" stroke-width="0.43">Remove ECU with connectors still connected.</text>
<text transform="translate(576.01,290.50) scale(0.9973,1)" font-size="17.83" fill="#fff" stroke="#fff" stroke-width="0.50">C</text>
<text transform="translate(627.13,290.90) scale(1.0264,1)" font-size="21.59" fill="#2b2b2b" stroke="#2b2b2b" stroke-width="0.44">Measure voltage between terminal IG of ECU con-</text>
<text transform="translate(627.09,315.20)" font-size="21.60" fill="#2b2b2b" stroke="#2b2b2b" stroke-width="0.45" word-spacing="7.01">nector and body ground when ignition switch is</text>
<text transform="translate(628.38,339.50) scale(1.0399,1)" font-size="21.60" fill="#2b2b2b" stroke="#2b2b2b" stroke-width="0.43">turned on and off.</text>
<text transform="translate(571.33,389.60) scale(0.9907,1)" font-size="15.51" fill="#fff" stroke="#fff" stroke-width="0.50">OK</text>
<text transform="translate(654.70,412.00) scale(1.0882,1)" font-size="19.71" font-weight="bold" fill="#2b2b2b" stroke="#2b2b2b" stroke-width="0.23">IG Switch</text>
<text transform="translate(853.40,411.80) scale(1.0679,1)" font-size="19.13" font-weight="bold" fill="#2b2b2b" stroke="#2b2b2b" stroke-width="0.23">Voltage</text>
<text transform="translate(688.62,449.00) scale(1.0304,1)" font-size="18.99" fill="#2b2b2b" stroke="#2b2b2b" stroke-width="0.44">ON</text>
<text transform="translate(839.05,448.90) scale(1.2085,1)" font-size="19.13" fill="#2b2b2b" stroke="#2b2b2b" stroke-width="0.37">10 <tspan font-weight="bold">–</tspan> 14 V</text>
<text transform="translate(685.32,486.50) scale(0.9250,1)" font-size="19.13" fill="#2b2b2b" stroke="#2b2b2b" stroke-width="0.49">OFF</text>
<text transform="translate(840.62,486.80) scale(1.0641,1)" font-size="19.71" fill="#2b2b2b" stroke="#2b2b2b" stroke-width="0.42">Below 1 V</text>
<text transform="translate(130.68,894.70) scale(1.0509,1)" font-size="30.14" font-weight="bold" fill="#2b2b2b" stroke="#2b2b2b" stroke-width="0.24">NG</text>
<text transform="translate(575.62,881.20) scale(0.9373,1)" font-size="28.70" font-weight="bold" fill="#2b2b2b" stroke="#2b2b2b" stroke-width="0.27">OK</text>
<text transform="translate(665.17,864.70) scale(1.0822,1)" font-size="20.14" font-weight="bold" fill="#2b2b2b" stroke="#2b2b2b" stroke-width="0.23">Proceed to next circuit inspection shown on</text>
<text transform="translate(665.50,894.40) scale(1.0634,1)" font-size="20.20" font-weight="bold" fill="#2b2b2b" stroke="#2b2b2b" stroke-width="0.24">matrix chart (See page SR-52).</text>
<text transform="translate(107.13,992.60) scale(1.0729,1)" font-size="48.70" font-weight="bold" fill="#2b2b2b" stroke="#2b2b2b" stroke-width="0.23">2</text>
<text transform="translate(180.09,984.00) scale(0.9540,1)" font-size="28.99" font-weight="bold" fill="#2b2b2b" stroke="#2b2b2b" stroke-width="0.26">Check ECU-IG fuse.</text>
<text transform="translate(575.44,1047.70) scale(0.9866,1)" font-size="18.55" fill="#fff" stroke="#fff" stroke-width="0.51">P</text>
<text transform="translate(628.60,1047.70) scale(1.0298,1)" font-size="21.88" fill="#2b2b2b" stroke="#2b2b2b" stroke-width="0.44">Remove ECU-IG fuse from J/B No. 1.</text>
<text transform="translate(575.00,1098.60) scale(0.9989,1)" font-size="18.12" fill="#fff" stroke="#fff" stroke-width="0.50">C</text>
<text transform="translate(628.27,1098.90) scale(1.0177,1)" font-size="22.17" fill="#2b2b2b" stroke="#2b2b2b" stroke-width="0.44">Check continuity of ECU-IG fuse.</text>
<text transform="translate(569.99,1147.00) scale(1.0182,1)" font-size="15.94" fill="#fff" stroke="#fff" stroke-width="0.49">OK</text>
<text transform="translate(629.52,1149.10) scale(0.9766,1)" font-size="22.46" font-weight="bold" fill="#2b2b2b" stroke="#2b2b2b" stroke-width="0.26">Continuity</text>
<text transform="translate(335.69,1296.70) scale(0.9817,1)" font-size="20.72" fill="#2b2b2b" stroke="#2b2b2b" stroke-width="0.46">J/B No. 1</text>
<text transform="translate(334.56,1317.70) scale(0.9371,1)" font-size="20.58" fill="#2b2b2b" stroke="#2b2b2b" stroke-width="0.48">ECU-IG Fuse</text>
<text transform="translate(88.06,1375.50) scale(0.8949,1)" font-size="13.48" font-weight="bold" fill="#2b2b2b" stroke="#2b2b2b" stroke-width="0.28">BE6624</text>
<text transform="translate(133.71,1437.80) scale(0.9981,1)" font-size="29.71" font-weight="bold" fill="#2b2b2b" stroke="#2b2b2b" stroke-width="0.25">OK</text>
<text transform="translate(575.41,1424.50) scale(1.0073,1)" font-size="28.26" font-weight="bold" fill="#2b2b2b" stroke="#2b2b2b" stroke-width="0.25">NG</text>
<text transform="translate(665.55,1408.20) scale(1.0157,1)" font-size="21.01" font-weight="bold" fill="#2b2b2b" stroke="#2b2b2b" stroke-width="0.25">Check for short in all the harness and</text>
<text transform="translate(666.53,1437.50) scale(1.0449,1)" font-size="20.72" font-weight="bold" fill="#2b2b2b" stroke="#2b2b2b" stroke-width="0.24">components connected to ECU-IG fuse.</text>
<text transform="translate(107.32,1513.30) scale(1.0092,1)" font-size="21.74" font-weight="bold" fill="#2b2b2b" stroke="#2b2b2b" stroke-width="0.25">Check and repair harness or connector</text>
<text transform="translate(107.38,1542.20) scale(1.0627,1)" font-size="21.74" font-weight="bold" fill="#2b2b2b" stroke="#2b2b2b" stroke-width="0.24">between ECU and battery.</text>
<text transform="translate(1182.38,946.20) scale(0.7986,1)" font-size="26.09" font-weight="bold" fill="#d2d2d2" stroke="#2a2a2a" stroke-width="1.5">S</text>
<text transform="translate(1198.89,946.20) scale(0.8275,1)" font-size="26.09" font-weight="bold" fill="#d2d2d2" stroke="#2a2a2a" stroke-width="1.5">R</text>
</svg>
</body></html>
